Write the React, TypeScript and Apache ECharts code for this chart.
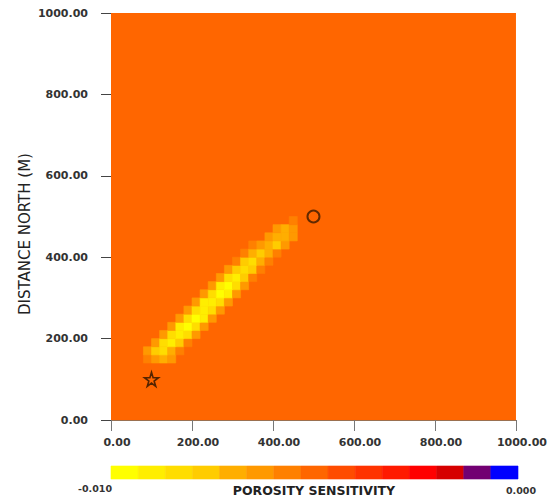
import React, { useEffect, useRef } from "react";
import * as echarts from "echarts";

// ---- data ----
const AXIS_MIN = 0;
const AXIS_MAX = 1000;
const AXIS_STEP = 200;
const CELL = 20;

const SCALE_MIN = -0.01;
const SCALE_MAX = 0.0;
const PIECE_COLORS = [
  "#FFFF00", "#FFEE00", "#FFDD00", "#FFCC00", "#FFAE00",
  "#FF9900", "#FF8000", "#FF6600", "#FF4C00", "#FF3300",
  "#FF1A00", "#FF0000", "#D60000", "#720072", "#0000FF",
];

const BACKGROUND_VALUE = -0.005;

// [row start north (m), first cell east (m), cell values]
const BAND_ROWS: [number, number, number[]][] = [
  [140, 80, [-0.0057, -0.0063, -0.007, -0.0063]],
  [160, 80, [-0.0063, -0.0077, -0.0083, -0.007, -0.0057]],
  [180, 100, [-0.0063, -0.0083, -0.009, -0.0077, -0.0057]],
  [200, 120, [-0.0063, -0.0083, -0.009, -0.0083, -0.0063]],
  [220, 140, [-0.0063, -0.009, -0.0097, -0.0083, -0.0063]],
  [240, 160, [-0.0063, -0.0083, -0.0097, -0.009, -0.0063]],
  [260, 180, [-0.0063, -0.0083, -0.009, -0.0083, -0.0063]],
  [280, 200, [-0.0063, -0.009, -0.009, -0.0083, -0.0063]],
  [300, 220, [-0.0063, -0.0083, -0.0097, -0.009, -0.0063]],
  [320, 240, [-0.0063, -0.009, -0.0097, -0.0083, -0.0063]],
  [340, 260, [-0.0063, -0.0083, -0.009, -0.0077, -0.0057]],
  [360, 280, [-0.0063, -0.0077, -0.0083, -0.0077, -0.0057]],
  [380, 300, [-0.0057, -0.0077, -0.0083, -0.007, -0.0057]],
  [400, 320, [-0.0057, -0.007, -0.0077, -0.007, -0.0057]],
  [420, 340, [-0.0057, -0.0063, -0.007, -0.0077, -0.0063]],
  [440, 380, [-0.0063, -0.007, -0.007, -0.0063]],
  [460, 400, [-0.0063, -0.007, -0.0063]],
  [480, 440, [-0.0057]],
];

const STAR_POINT = [100, 100];
const CIRCLE_POINT = [500, 500];

const Y_NAME = "DISTANCE NORTH (M)";
const BAR_TITLE = "POROSITY SENSITIVITY";
const BAR_MIN_LABEL = "-0.010";
const BAR_MAX_LABEL = "0.000";

const STAR_PATH =
  "path://M50,0 L61,35 L98,35 L68,57 L79,91 L50,70 L21,91 L32,57 L2,35 L39,35 Z";

export default function App() {
  const ref = useRef<HTMLDivElement>(null);

  useEffect(() => {
    if (!ref.current) return;
    const chart = echarts.init(ref.current, undefined, { renderer: "svg" });

    const cells: number[][] = [[AXIS_MIN, AXIS_MIN, AXIS_MAX, AXIS_MAX, BACKGROUND_VALUE]];
    BAND_ROWS.forEach(([y0, x0, vals]) => {
      vals.forEach((v, i) => {
        const x = x0 + i * CELL;
        cells.push([x, y0, x + CELL, y0 + CELL, v]);
      });
    });

    const step = (SCALE_MAX - SCALE_MIN) / PIECE_COLORS.length;
    const pieces = PIECE_COLORS.map((c, i) => ({
      min: SCALE_MIN + i * step,
      max: SCALE_MIN + (i + 1) * step,
      color: c,
    }));
    const barData = pieces.map((p) => [p.min, 0, p.max, 1, (p.min + p.max) / 2]);

    const renderCell = (params: any, api: any) => {
      const p0 = api.coord([api.value(0), api.value(1)]);
      const p1 = api.coord([api.value(2), api.value(3)]);
      const color = api.visual("color");
      return {
        type: "rect",
        shape: {
          x: p0[0],
          y: p1[1],
          width: p1[0] - p0[0],
          height: p0[1] - p1[1],
        },
        style: { fill: color, stroke: color, lineWidth: 0.6 },
      };
    };

    const font = "DejaVu Sans";

    chart.setOption({
      animation: false,
      backgroundColor: "#ffffff",
      grid: [
        { left: 111, top: 13, width: 406, height: 407 },
        { left: 111, top: 466, width: 407, height: 13 },
      ],
      xAxis: [
        {
          type: "value",
          gridIndex: 0,
          min: AXIS_MIN,
          max: AXIS_MAX,
          interval: AXIS_STEP,
          splitLine: { show: false },
          axisLine: { show: true, lineStyle: { color: "#9a7050", width: 1 } },
          axisTick: { show: true, length: 11, lineStyle: { color: "#777" } },
          axisLabel: {
            margin: 17,
            fontFamily: font,
            fontSize: 11,
            fontWeight: "bold",
            color: "#333",
            padding: [0, 0, 0, 12],
            formatter: (v: number) => v.toFixed(2),
          },
        },
        {
          type: "value",
          gridIndex: 1,
          min: SCALE_MIN,
          max: SCALE_MAX,
          show: false,
        },
      ],
      yAxis: [
        {
          type: "value",
          gridIndex: 0,
          min: AXIS_MIN,
          max: AXIS_MAX,
          interval: AXIS_STEP,
          splitLine: { show: false },
          axisLine: { show: false },
          axisTick: { show: true, length: 10, lineStyle: { color: "#444" } },
          axisLabel: {
            margin: 23,
            fontFamily: font,
            fontSize: 11,
            fontWeight: "bold",
            color: "#333",
            formatter: (v: number) => v.toFixed(2),
          },
        },
        {
          type: "value",
          gridIndex: 1,
          min: 0,
          max: 1,
          show: false,
        },
      ],
      visualMap: {
        type: "piecewise",
        show: false,
        dimension: 4,
        seriesIndex: [0, 1],
        pieces,
      },
      series: [
        {
          type: "custom",
          xAxisIndex: 0,
          yAxisIndex: 0,
          renderItem: renderCell,
          encode: { x: [0, 2], y: [1, 3] },
          data: cells,
          clip: true,
          silent: true,
        },
        {
          type: "custom",
          xAxisIndex: 1,
          yAxisIndex: 1,
          renderItem: renderCell,
          encode: { x: [0, 2], y: [1, 3] },
          data: barData,
          silent: true,
        },
        {
          type: "scatter",
          xAxisIndex: 0,
          yAxisIndex: 0,
          data: [STAR_POINT],
          symbol: STAR_PATH,
          symbolSize: 14,
          itemStyle: { color: "rgba(0,0,0,0)", borderColor: "#2a1400", borderWidth: 1.6 },
          silent: true,
          z: 5,
        },
        {
          type: "scatter",
          xAxisIndex: 0,
          yAxisIndex: 0,
          data: [CIRCLE_POINT],
          symbol: "circle",
          symbolSize: 12,
          itemStyle: { color: "rgba(0,0,0,0)", borderColor: "#3a1a00", borderWidth: 2 },
          silent: true,
          z: 5,
        },
      ],
      graphic: [
        {
          type: "text",
          x: 25,
          y: 234,
          rotation: Math.PI / 2,
          style: {
            text: Y_NAME,
            fontFamily: font,
            fontSize: 15,
            fill: "#222",
            align: "center",
            verticalAlign: "middle",
          },
        },
        {
          type: "text",
          x: 314,
          y: 490,
          style: {
            text: BAR_TITLE,
            fontFamily: font,
            fontSize: 12.5,
            fontWeight: "bold",
            fill: "#222",
            align: "center",
            verticalAlign: "middle",
          },
        },
        {
          type: "text",
          x: 112,
          y: 488,
          style: {
            text: BAR_MIN_LABEL,
            fontFamily: font,
            fontSize: 9.5,
            fontWeight: "bold",
            fill: "#333",
            align: "right",
            verticalAlign: "middle",
          },
        },
        {
          type: "text",
          x: 521,
          y: 490,
          style: {
            text: BAR_MAX_LABEL,
            fontFamily: font,
            fontSize: 9.5,
            fontWeight: "bold",
            fill: "#333",
            align: "center",
            verticalAlign: "middle",
          },
        },
      ],
    });

    return () => chart.dispose();
  }, []);

  return <div ref={ref} style={{ width: 550, height: 498, position: "absolute", left: 0, top: 0 }} />;
}
